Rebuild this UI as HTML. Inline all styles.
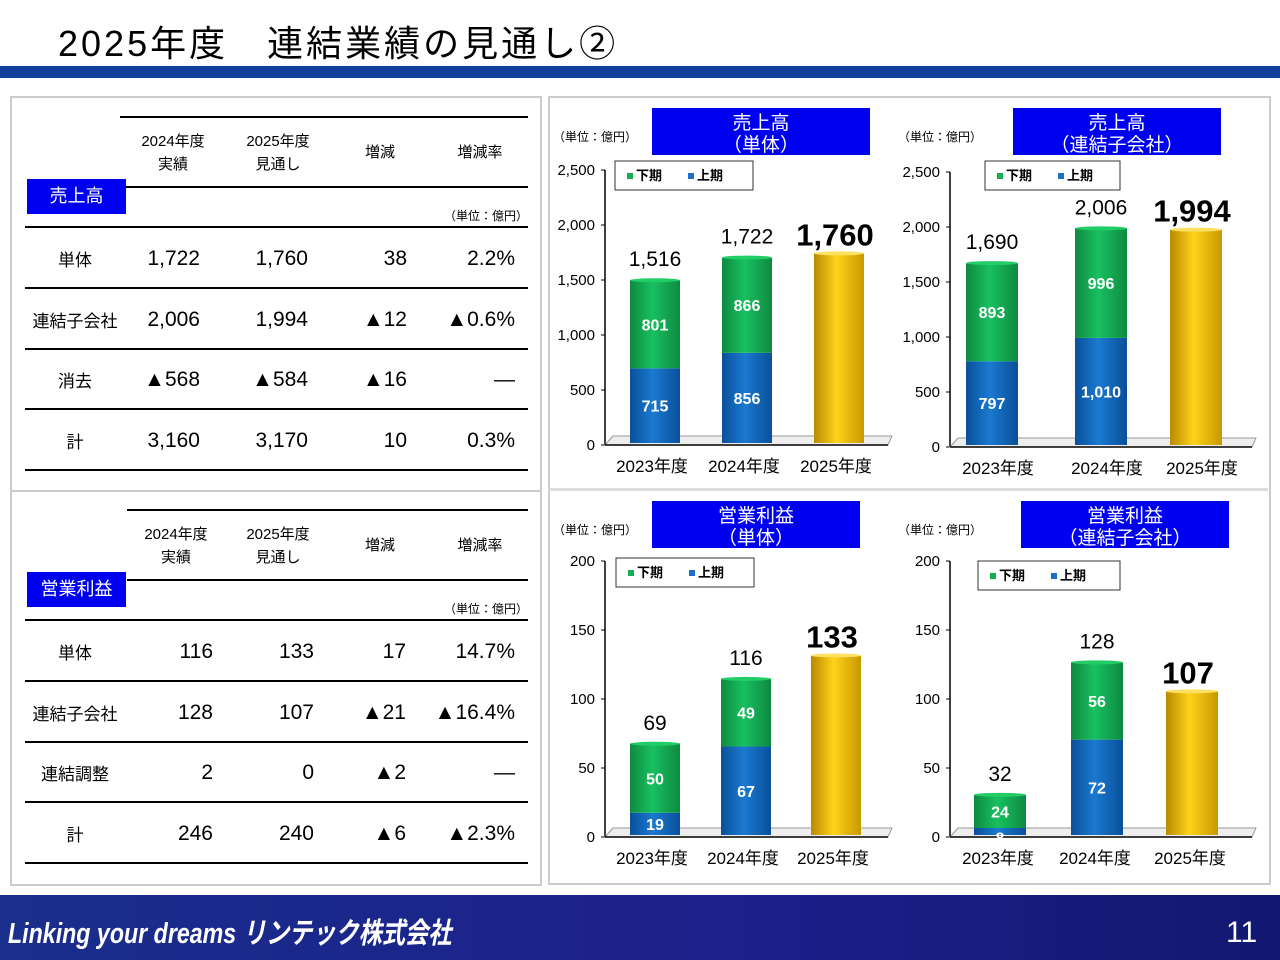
<!DOCTYPE html>
<html><head><meta charset="utf-8">
<style>
body{margin:0;width:1280px;height:960px;position:relative;background:#fff;font-family:"Liberation Sans","Noto Sans CJK JP",sans-serif;overflow:hidden;color:#000}
.a{position:absolute}
.ln{position:absolute;height:2px;background:#000}
.t{position:absolute;white-space:nowrap}
.r{text-align:right}
.c{text-align:center}
</style></head><body>
<div class="t" style="left:58px;top:15px;font-size:36px;letter-spacing:3px">2025年度　連結業績の見通し②</div>
<div class="a" style="left:0;top:66px;width:1280px;height:12px;background:#10409a"></div>
<div class="a" style="left:10px;top:96px;width:528px;height:392px;border:2px solid #ccc"></div>
<div class="a" style="left:10px;top:490px;width:528px;height:392px;border:2px solid #ccc"></div>
<div class="a" style="left:548px;top:96px;width:719px;height:785px;border:2px solid #ccc"></div>
<div class="a" style="left:549px;top:488px;width:719px;height:3px;background:#ddd"></div>
<div id="tables"></div>
<svg id="ch" class="a" style="left:0;top:0" width="1280" height="960"></svg>
<div class="a" style="left:0;top:895px;width:1280px;height:65px;background:linear-gradient(90deg,#1a2e8c,#1c1f8a 60%,#121870)"></div>
<div class="t" style="left:8px;top:910px;color:#fff;font-size:29px;font-style:italic;font-weight:bold;transform:scaleX(0.8);transform-origin:left">Linking your dreams リンテック株式会社</div>
<div class="t" style="left:1226px;top:916px;color:#fff;font-size:30px">11</div>
<script>
// ---- tables ----
const salesHeads=["2024年度<br>実績","2025年度<br>見通し","増減","増減率"];
const salesRows=[["単体","1,722","1,760","38","2.2%"],["連結子会社","2,006","1,994","▲12","▲0.6%"],["消去","▲568","▲584","▲16","—"],["計","3,160","3,170","10","0.3%"]];
const opHeads=salesHeads;
const opRows=[["単体","116","133","17","14.7%"],["連結子会社","128","107","▲21","▲16.4%"],["連結調整","2","0","▲2","—"],["計","246","240","▲6","▲2.3%"]];
function table(o){
  let h='';
  h+=`<div class="ln" style="left:${o.hx}px;top:${o.y0}px;width:${528-o.hx}px"></div>`;
  h+=`<div class="ln" style="left:${o.hx}px;top:${o.y0+70}px;width:${528-o.hx}px"></div>`;
  o.hc.forEach((c,i)=>{const two=o.heads[i].indexOf('<br>')>=0;h+=`<div class="t c" style="left:${c-60}px;width:120px;top:${o.y0+(two?14:25)}px;font-size:15px;line-height:23px">${o.heads[i]}</div>`;});
  h+=`<div class="t c" style="left:27px;width:99px;top:${o.y0+63}px;height:35px;line-height:35px;background:#0000f0;color:#fff;font-size:18px">${o.label}</div>`;
  h+=`<div class="t" style="left:444px;top:${o.y0+91}px;font-size:12px">（単位：億円）</div>`;
  h+=`<div class="ln" style="left:25px;top:${o.y0+110}px;width:503px"></div>`;
  o.rows.forEach((r,i)=>{
    const y=o.y0+111+i*60.5;
    h+=`<div class="t c" style="left:20px;width:110px;top:${y+19}px;font-size:17px">${r[0]}</div>`;
    o.cr.forEach((x,j)=>{h+=`<div class="t r" style="left:${x-110}px;width:110px;top:${y+20}px;font-size:21px">${r[j+1]}</div>`;});
    h+=`<div class="ln" style="left:25px;top:${y+60}px;width:503px"></div>`;
  });
  return h;
}
document.getElementById('tables').innerHTML=
 table({y0:116,hx:120,hc:[173,278,380,480],cr:[200,308,407,515],heads:salesHeads,rows:salesRows,label:"売上高",nm:"sales"})+
 table({y0:509,hx:127,hc:[176,278,380,480],cr:[213,314,406,515],heads:opHeads,rows:opRows,label:"営業利益",nm:"op"});

// ---- charts ----
const years=["2023年度","2024年度","2025年度"];
const salesSingleUpper=[715,856,0];
const salesSingleLower=[801,866,0];
const salesSingleTotal=[1516,1722,1760];
const salesSubUpper=[797,1010,0];
const salesSubLower=[893,996,0];
const salesSubTotal=[1690,2006,1994];
const opSingleUpper=[19,67,0];
const opSingleLower=[50,49,0];
const opSingleTotal=[69,116,133];
const opSubUpper=[8,72,0];
const opSubLower=[24,56,0];
const opSubTotal=[32,128,107];
const salesTicks=[0,500,1000,1500,2000,2500];
const opTicks=[0,50,100,150,200];

const svg=document.getElementById('ch');const NS='http://www.w3.org/2000/svg';
function el(tag,at,txt,name){const e=document.createElementNS(NS,tag);for(const k in at)e.setAttribute(k,at[k]);if(txt!=null)e.textContent=txt;


svg.appendChild(e);return e;}
const defs=el('defs',{},null,'defs');
defs.innerHTML=`<linearGradient id="gB"><stop offset="0" stop-color="#0a4f9a"/><stop offset=".45" stop-color="#1a7ad0"/><stop offset="1" stop-color="#0a4f9a"/></linearGradient>
<linearGradient id="gG"><stop offset="0" stop-color="#0e8a40"/><stop offset=".45" stop-color="#18c060"/><stop offset="1" stop-color="#0e8a40"/></linearGradient>
<linearGradient id="gY"><stop offset="0" stop-color="#b88a00"/><stop offset=".45" stop-color="#ffd21a"/><stop offset="1" stop-color="#c89800"/></linearGradient>`;
function fmt(v){return v.toLocaleString('en-US');}
function chart(c){
  const ys=v=>c.y0-(v/c.max)*(c.y0-c.yTop);
  el('line',{x1:c.ax,y1:c.yTop,x2:c.ax,y2:c.y0,stroke:'#000','stroke-width':1.5},null,'y-axis');
  c.ticks.forEach(t=>{const y=ys(t);el('line',{x1:c.ax-4,y1:y,x2:c.ax,y2:y,stroke:'#000'},null,'y-tick');
    el('text',{x:c.ax-10,y:y+5,'font-size':15,'text-anchor':'end'},fmt(t),'y-tick-label');});
  el('polygon',{points:`${c.ax},${c.y0} ${c.ax+8},${c.y0-9} ${c.ax2+4},${c.y0-9} ${c.ax2},${c.y0}`,fill:'#eee',stroke:'#999'},null,'chart-floor');
  el('line',{x1:c.ax,y1:c.y0,x2:c.ax2,y2:c.y0,stroke:'#000','stroke-width':1.5},null,'x-axis');
  c.cx.forEach((x,i)=>{
    const w=c.bw,up=c.upper[i],lo=c.lower[i],tot=c.total[i];
    const off=2;
    if(up||lo){
      const yb=ys(0)-2,yu=ys(up)+off,yl=ys(up+lo)+off;
      el('rect',{x:x-w/2,y:yu,width:w,height:yb-yu,fill:'url(#gB)'},null,'bar-upper');
      el('rect',{x:x-w/2,y:yl,width:w,height:yu-yl,fill:'url(#gG)'},null,'bar-lower');
      el('ellipse',{cx:x,cy:yl,rx:w/2,ry:2,fill:'#22cc66'},null,'bar-top');
      el('text',{x:x,y:(yb+yu)/2+(c.upLab&&c.upLab[i]||0)+6,'font-size':16,'font-weight':'bold',fill:'#fff','text-anchor':'middle'},fmt(up),'upper-value');
      el('text',{x:x,y:(yu+yl)/2+6,'font-size':16,'font-weight':'bold',fill:'#fff','text-anchor':'middle'},fmt(lo),'lower-value');
      el('text',{x:x,y:yl-14,'font-size':21,'text-anchor':'middle'},fmt(tot),'total-value');
    } else {
      const yb=ys(0)-2,yt=ys(tot)+off;
      el('rect',{x:x-w/2,y:yt,width:w,height:yb-yt,fill:'url(#gY)'},null,'bar-forecast');
      el('ellipse',{cx:x,cy:yt,rx:w/2,ry:2,fill:'#ffe060'},null,'bar-top');
      el('text',{x:x-4,y:yt-8,'font-size':31,'font-weight':'bold','text-anchor':'middle'},fmt(tot),'forecast-value');
    }
    el('text',{x:x+c.lxo,y:c.y0+27,'font-size':17,'text-anchor':'middle'},years[i],'x-tick-label');
  });
  el('text',{x:c.ax-52,y:c.ty+33,'font-size':12},'（単位：億円）','unit-label');
  el('rect',{x:c.tx,y:c.ty,width:c.tw,height:47,fill:'#0000f0'},null,'chart-title-box');
  el('text',{x:c.tx+c.tw/2,y:c.ty+21,'font-size':19,fill:'#fff','text-anchor':'middle'},c.t1,'chart-title');
  el('text',{x:c.tx+c.tw/2,y:c.ty+43,'font-size':19,fill:'#fff','text-anchor':'middle'},c.t2,'chart-subtitle');
  el('rect',{x:c.lx,y:c.ly,width:c.lw,height:29,fill:'#fff',stroke:'#333'},null,'legend-box');
  el('rect',{x:c.lx+12,y:c.ly+12,width:6,height:6,fill:'#12b050'},null,'legend-swatch-lower');
  el('text',{x:c.lx+21,y:c.ly+19,'font-size':13,'font-weight':'bold'},'下期','legend-entry-lower');
  el('rect',{x:c.lx+73,y:c.ly+12,width:6,height:6,fill:'#1a70c8'},null,'legend-swatch-upper');
  el('text',{x:c.lx+82,y:c.ly+19,'font-size':13,'font-weight':'bold'},'上期','legend-entry-upper');
}
chart({ax:605,ax2:888,y0:445,yTop:170,max:2500,ticks:salesTicks,cx:[655,747,839],bw:50,lxo:-3,upper:salesSingleUpper,lower:salesSingleLower,total:salesSingleTotal,tx:652,ty:108,tw:218,t1:'売上高',t2:'（単体）',lx:615,ly:161,lw:138});
chart({ax:950,ax2:1252,y0:447,yTop:172,max:2500,ticks:salesTicks,cx:[992,1101,1196],bw:52,lxo:6,upper:salesSubUpper,lower:salesSubLower,total:salesSubTotal,tx:1013,ty:108,tw:208,t1:'売上高',t2:'（連結子会社）',lx:985,ly:161,lw:135});
chart({ax:605,ax2:888,y0:837,yTop:561,max:200,ticks:opTicks,cx:[655,746,836],bw:50,lxo:-3,upper:opSingleUpper,lower:opSingleLower,total:opSingleTotal,tx:652,ty:501,tw:208,t1:'営業利益',t2:'（単体）',lx:616,ly:558,lw:138});
chart({ax:950,ax2:1252,y0:837,yTop:561,max:200,ticks:opTicks,cx:[1000,1097,1192],bw:52,lxo:-2,upper:opSubUpper,lower:opSubLower,total:opSubTotal,upLab:[6,0,0],tx:1021,ty:501,tw:208,t1:'営業利益',t2:'（連結子会社）',lx:978,ly:561,lw:142});
</script>
</body></html>
